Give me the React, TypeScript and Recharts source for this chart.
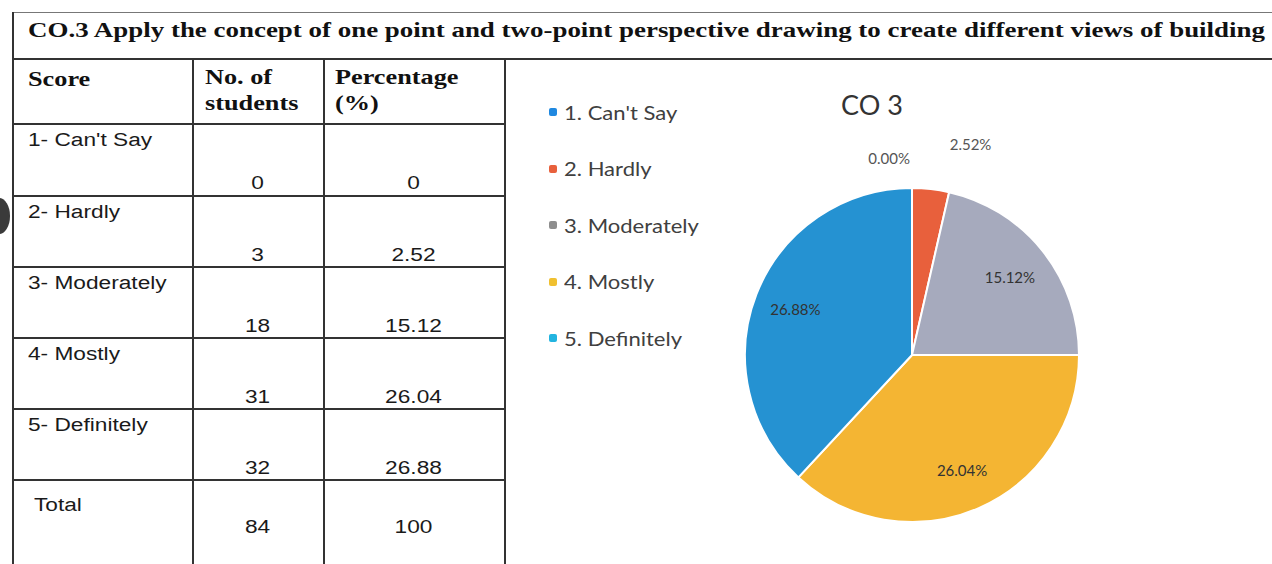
import { PieChart, Pie, Cell } from 'recharts';

const scoreLabels = ["1- Can't Say", '2- Hardly', '3- Moderately', '4- Mostly', '5- Definitely'];
const legendNames = ["1. Can't Say", '2. Hardly', '3. Moderately', '4. Mostly', '5. Definitely'];
const students = [0, 3, 18, 31, 32];
const percentages = [0, 2.52, 15.12, 26.04, 26.88];
const totalStudents = 84;
const totalPercent = 100;
const colors = ['#1f88d6', '#e8603c', '#a6aabd', '#f4b533', '#2592d2'];
const legendColors = ['#1f88e0', '#e8603c', '#8e8e8e', '#f0c030', '#22b4e0'];

const pieData = legendNames.map((name, i) => ({ name, value: percentages[i], students: students[i] }));

const RAD = Math.PI / 180;

const rowTops = [123, 195, 266, 337, 408, 479];
const colX = [12, 192, 323, 504];

function renderLabel(props: any) {
  const { cx, cy, midAngle, outerRadius, value } = props;
  const small = value < 5;
  const r = small ? outerRadius + (value === 0 ? 30 : 45) : outerRadius * 0.75;
  const x = cx + r * Math.cos(-midAngle * RAD);
  const y = cy + r * Math.sin(-midAngle * RAD);
  let anchor: 'start' | 'middle' | 'end' = 'middle';
  let dx = 0;
  if (small) {
    anchor = value === 0 ? 'end' : 'start';
    dx = value === 0 ? -2 : 14;
  }
  return (
    <text
      x={x + dx}
      y={y}
      textAnchor={anchor}
      dominantBaseline="central"
      fill={small ? '#555' : '#333'}
      fontSize={15}
      fontFamily="Lato, sans-serif"
    >
      {value.toFixed(2) + '%'}
    </text>
  );
}

function Line({ x, y, w, h, c = '#333' }: { x: number; y: number; w: number; h: number; c?: string }) {
  return <div style={{ position: 'absolute', left: x, top: y, width: w, height: h, background: c }} />;
}

const cellText: React.CSSProperties = {
  position: 'absolute',
  fontFamily: '"Liberation Sans", Arial, sans-serif',
  fontSize: 18,
  color: '#1a1a1a',
  lineHeight: '20px',
  whiteSpace: 'nowrap',
  transform: 'scaleX(1.26)',
  transformOrigin: 'left center',
};

const numText: React.CSSProperties = {
  ...cellText,
  textAlign: 'center',
  transformOrigin: 'center center',
};

const headText: React.CSSProperties = {
  position: 'absolute',
  fontFamily: '"Liberation Serif", "Times New Roman", serif',
  fontWeight: 'bold',
  fontSize: 21,
  color: '#111',
  lineHeight: '26px',
  whiteSpace: 'nowrap',
  transform: 'scaleX(1.25)',
  transformOrigin: 'left center',
};

export default function App() {
  return (
    <div style={{ position: 'fixed', left: 0, top: 0, width: 1272, height: 564, background: '#fff', overflow: 'hidden' }}>
      {/* frame and grid */}
      <Line x={12} y={12} w={1260} h={1} c="#777" />
      <Line x={12} y={12} w={2} h={552} />
      <Line x={12} y={58} w={1260} h={2} />
      <Line x={colX[1]} y={59} w={2} h={505} />
      <Line x={colX[2]} y={59} w={2} h={505} />
      <Line x={colX[3]} y={59} w={2} h={505} />
      {rowTops.map((t) => (
        <Line key={t} x={12} y={t} w={492} h={2} />
      ))}
      <div
        style={{ position: 'absolute', left: -12, top: 198, width: 22, height: 36, borderRadius: '50%', background: '#3a3a3a' }}
      />

      {/* title */}
      <svg style={{ position: 'absolute', left: 0, top: 0 }} width={1272} height={58}>
        <text
          x={28}
          y={37}
          textLength={1237}
          lengthAdjust="spacingAndGlyphs"
          fontFamily='"Liberation Serif", "Times New Roman", serif'
          fontWeight="bold"
          fontSize={21}
          fill="#111"
        >
          CO.3 Apply the concept of one point and two-point perspective drawing to create different views of building
        </text>
      </svg>

      {/* header */}
      <div style={{ ...headText, left: 28, top: 66 }}>Score</div>
      <div style={{ ...headText, left: 205, top: 64 }}>
        No. of
        <br />
        students
      </div>
      <div style={{ ...headText, left: 335, top: 64 }}>
        Percentage
        <br />
        (%)
      </div>

      {/* rows */}
      {scoreLabels.map((s, i) => (
        <div key={s}>
          <div style={{ ...cellText, left: 28, top: rowTops[i] + 7 }}>{s}</div>
          <div style={{ ...numText, left: colX[1], width: colX[2] - colX[1], top: rowTops[i] + 50 }}>
            {students[i]}
          </div>
          <div style={{ ...numText, left: colX[2], width: colX[3] - colX[2], top: rowTops[i] + 50 }}>
            {percentages[i]}
          </div>
        </div>
      ))}
      <div style={{ ...cellText, left: 34, top: rowTops[5] + 16 }}>Total</div>
      <div style={{ ...numText, left: colX[1], width: colX[2] - colX[1], top: rowTops[5] + 38 }}>
        {totalStudents}
      </div>
      <div style={{ ...numText, left: colX[2], width: colX[3] - colX[2], top: rowTops[5] + 38 }}>
        {totalPercent}
      </div>

      {/* chart title */}
      <div
        style={{
          position: 'absolute',
          left: 841,
          top: 88,
          fontFamily: 'Lato, sans-serif',
          fontSize: 27,
          color: '#333',
        }}
      >
        CO 3
      </div>

      {/* legend */}
      <div
        style={{
          position: 'absolute',
          left: 549,
          top: 84,
          fontFamily: 'Lato, sans-serif',
          fontSize: 19,
          color: '#404040',
        }}
      >
        {legendNames.map((n, i) => (
          <div key={n} style={{ display: 'flex', alignItems: 'center', height: 56.5 }}>
            <span
              style={{
                width: 8,
                height: 8,
                borderRadius: 2,
                background: legendColors[i],
                marginRight: 7,
                display: 'inline-block',
              }}
            />
            <span style={{ display: 'inline-block', transform: 'scaleX(1.16)', transformOrigin: 'left center' }}>{n}</span>
          </div>
        ))}
      </div>

      {/* pie */}
      <div style={{ position: 'absolute', left: 506, top: 60 }}>
        <PieChart width={766} height={504} margin={{ top: 0, right: 0, bottom: 0, left: 0 }}>
          <Pie
            data={pieData}
            dataKey="value"
            nameKey="name"
            cx={406}
            cy={295}
            outerRadius={167}
            startAngle={90}
            endAngle={-270}
            stroke="#fff"
            strokeWidth={2}
            label={renderLabel}
            labelLine={false}
            isAnimationActive={false}
          >
            {pieData.map((d, i) => (
              <Cell key={d.name} fill={colors[i]} />
            ))}
          </Pie>
        </PieChart>
      </div>
    </div>
  );
}
